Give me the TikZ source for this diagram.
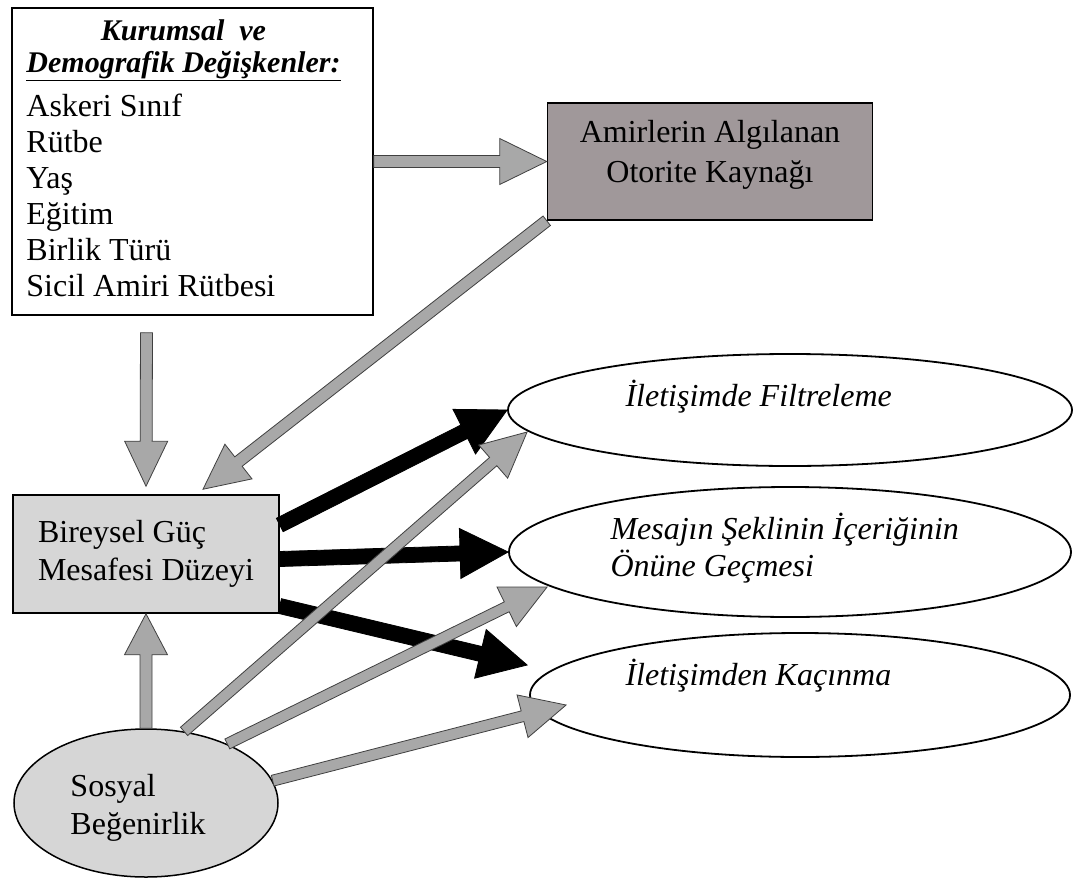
\documentclass[tikz,border=0pt]{standalone}
\usepackage{fontspec}
\setmainfont{Liberation Serif}
\usetikzlibrary{shapes,calc}

\definecolor{arrowgrey}{RGB}{168,168,168}
\definecolor{authgrey}{RGB}{160,152,154}
\definecolor{lightgrey}{RGB}{214,214,214}

% block arrow: style, from, to, half shaft, head length, half head
\newcommand{\fatarrow}[6]{%
	\coordinate (fa-s) at (#2);
	\coordinate (fa-e) at (#3);
	\coordinate (fa-b) at ($(fa-e)!#5!(fa-s)$);
	\filldraw[#1] ($(fa-s)!#4!90:(fa-e)$) -- ($(fa-b)!#4!90:(fa-e)$) -- ($(fa-b)!#6!90:(fa-e)$) -- (fa-e)
		-- ($(fa-b)!#6!-90:(fa-e)$) -- ($(fa-b)!#4!-90:(fa-e)$) -- ($(fa-s)!#4!-90:(fa-e)$) -- cycle;
}

\tikzset{
	every node/.style={font=\fontsize{32}{36}\selectfont},
	varbox/.style={draw, rectangle, line width=1.5pt, inner sep=0pt},
	outcome/.style={draw, ellipse, line width=1.8pt, fill=white, inner sep=0pt},
	outlabel/.style={anchor=west, font=\fontsize{32}{37}\selectfont\itshape, align=left},
	greyarrow/.style={fill=arrowgrey, draw=black!75, line width=0.8pt},
	blackarrow/.style={fill=black, draw=black, line width=0.8pt}
}

\begin{document}
\begin{tikzpicture}[x=1pt, y=-1pt]
	\useasboundingbox (0,0) rectangle (1079,881);
	
	\node[varbox, minimum width=361pt, minimum height=307pt] (kd) at (192.5,161.5) {%
		\begin{tabular}{@{}l@{\hspace{18pt}}}
			\multicolumn{1}{@{}c@{\hspace{18pt}}}{\fontsize{30}{33}\selectfont\textbf{\textit{Kurumsal\ \ ve}}}\\[-4pt]
			{\fontsize{30}{33}\selectfont\textbf{\textit{\underline{Demografik Değişkenler:}}}}\\[8pt]
			Askeri Sınıf\\
			Rütbe\\
			Yaş\\
			Eğitim\\
			Birlik Türü\\
			Sicil Amiri Rütbesi
		\end{tabular}};
	\node[varbox, fill=authgrey, minimum width=325pt, minimum height=117pt] (ak) at (710,161.5) {\raisebox{6pt}[\height][\depth]{\begin{tabular}{@{}c@{}}Amirlerin Algılanan\\[4pt]Otorite Kaynağı\end{tabular}}};
	\node[varbox, fill=lightgrey, minimum width=266pt, minimum height=118pt, align=left] (bg) at (146,554) {Bireysel Güç\\[2pt]Mesafesi Düzeyi};
	\node[draw, ellipse, line width=1.5pt, fill=lightgrey, minimum width=264pt, minimum height=148pt] (sb) at (146,803) {\raisebox{-5pt}[\height][\depth]{\begin{tabular}{@{}l@{\hspace{16pt}}}Sosyal\\[2pt]Beğenirlik\end{tabular}}};
	
	\node[outcome, minimum width=564pt, minimum height=112pt] (e1) at (790,410) {};
	\node[outcome, minimum width=562pt, minimum height=130pt] (e2) at (790,552) {};
	\node[outcome, minimum width=540pt, minimum height=124pt] (e3) at (800,695) {};
	\node[outlabel] at (622,397) {İletişimde Filtreleme};
	\node[outlabel] at (607,548) {Mesajın Şeklinin İçeriğinin\\Önüne Geçmesi};
	\node[outlabel] at (622,676) {İletişimden Kaçınma};
	
	\fatarrow{greyarrow}{kd.east}{ak.west}{6pt}{47pt}{23pt}
	\fatarrow{greyarrow}{ak.south west}{$(bg.north)+(57,-5)$}{6pt}{45pt}{22pt}
	\fatarrow{greyarrow}{$(kd.south)+(-46,17)$}{$(bg.north)+(0,-8)$}{6pt}{45pt}{21.5pt}
	\fatarrow{greyarrow}{sb.north}{bg.south}{6pt}{41pt}{21.5pt}
	
	\fatarrow{blackarrow}{$(bg.east)+(0,-29)$}{e1.west}{7.5pt}{48pt}{25pt}
	\fatarrow{blackarrow}{$(bg.east)+(0,5)$}{e2.west}{7.5pt}{48pt}{25pt}
	\fatarrow{blackarrow}{$(bg.east)+(0,52)$}{$(e3.west)+(-2,-30)$}{7.5pt}{48pt}{25pt}
	
	\fatarrow{greyarrow}{sb.62}{$(e1.west)+(20,22)$}{5.5pt}{45pt}{22pt}
	\fatarrow{greyarrow}{sb.36}{$(e2.west)+(39,35)$}{5.5pt}{45pt}{22pt}
	\fatarrow{greyarrow}{sb.10}{$(e3.west)+(37,10)$}{5.5pt}{45pt}{22pt}
\end{tikzpicture}
\end{document}
